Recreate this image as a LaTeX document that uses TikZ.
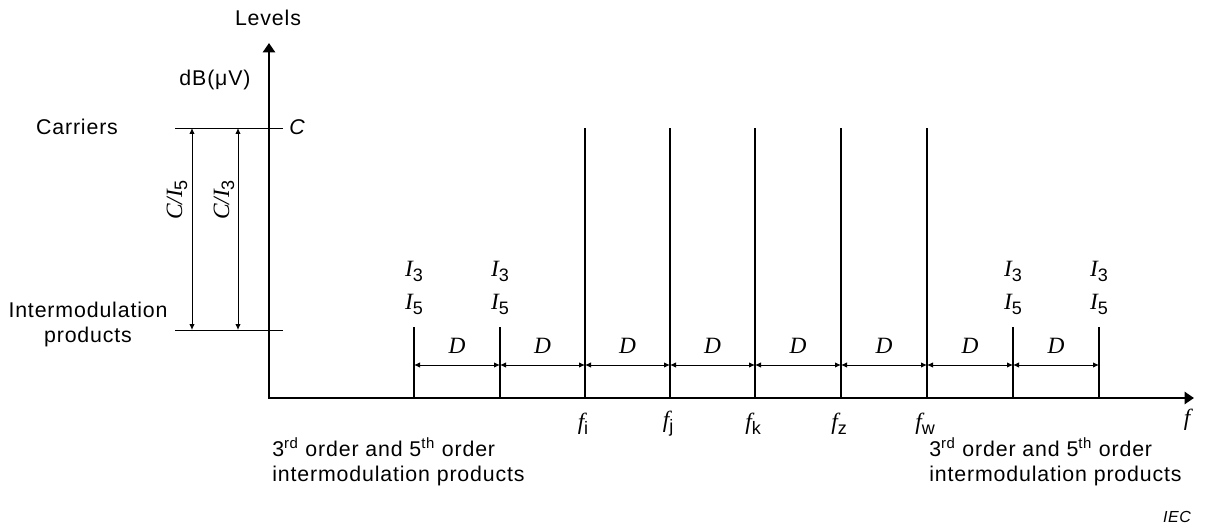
\documentclass[tikz,border=0pt]{standalone}
\usepackage{fontspec}
\setmainfont[LetterSpace=4]{Liberation Sans}
\newfontfamily\timesfont{Liberation Serif}
\usetikzlibrary{arrows.meta}
\usetikzlibrary{calc}
\usetikzlibrary{positioning}

% italic serif letter, sans subscript
\newcommand{\ivar}[1]{{\timesfont\itshape #1}}
\newcommand{\isub}[2]{\ivar{#1}\raisebox{-0.4ex}{\fontsize{13.5}{14}\selectfont #2}}

\begin{document}
\begin{tikzpicture}[x=0.75pt,y=-0.75pt,
	axis/.style={line width=2pt,line join=miter},
	specline/.style={line width=1.8pt},
	thinline/.style={line width=0.65pt},
	dimarrow/.style={line width=0.65pt,{Latex[length=4.5pt,width=4pt]}-{Latex[length=4.5pt,width=4pt]}},
	lbl/.style={font=\fontsize{16}{18.75}\selectfont,inner sep=0pt},
	vlbl/.style={font=\fontsize{17.5}{20}\selectfont,inner sep=0pt}]
	\useasboundingbox (0,0) rectangle (1210,527);

	% axes
	\coordinate (o) at (269,398);
	\coordinate (ytop) at (269,43);
	\coordinate (xend) at (1194,398);
	\draw[axis,{Triangle[length=7pt,width=9pt]}-{Triangle[length=7pt,width=9pt]}] (ytop) -- (o) -- (xend);
	\node[lbl] (levels) at (268,18) {Levels};
	\node[lbl] (unit) at (215,80) {dB(μV)};
	\node[vlbl] (faxis) at (1187,420) {\ivar{f}};

	% reference levels
	\coordinate (cl) at (175,128);
	\coordinate (cr) at (283,128);
	\coordinate (il) at (175,330);
	\coordinate (ir) at (283,330);
	\draw[thinline] (cl) -- (cr);
	\draw[thinline] (il) -- (ir);
	\node[lbl] (carriers) at (77,127) {Carriers};
	\node[lbl,align=center] (improd) at (88,324) {Intermodulation\\products};
	\node[lbl,font=\fontsize{16}{18}\selectfont\itshape] (clevel) at (297,127) {C};

	% C/I ratios
	\coordinate (c5t) at (192,128);
	\coordinate (c5b) at (192,330);
	\coordinate (c3t) at (238,128);
	\coordinate (c3b) at (238,330);
	\draw[dimarrow] (c5t) -- (c5b);
	\draw[dimarrow] (c3t) -- (c3b);
	\node[vlbl,rotate=90] (ci5) at (177,200) {\ivar{C/}\isub{I}{5}};
	\node[vlbl,rotate=90] (ci3) at (224,200) {\ivar{C/}\isub{I}{3}};

	% carriers
	\foreach \x/\n in {585/i,670/j,755/k,841/z,927/w}
	{
		\coordinate (f\n) at (\x,398);
		\draw[specline] (f\n) -- ++(0,-270);
		\node[vlbl] (lf\n) at (\x-2,424) {\isub{f}{\n}};
	}

	% intermodulation products
	\foreach \x/\n in {414/1,500/2,1013/3,1099/4}
	{
		\coordinate (p\n) at (\x,398);
		\draw[specline] (p\n) -- ++(0,-71) coordinate (pt\n);
		\node[vlbl] (ia\n) at (\x,271) {\isub{I}{3}};
		\node[vlbl] (ib\n) at (\x,304) {\isub{I}{5}};
	}

	% spacings
	\foreach \a/\b in {414/500,500/585,585/670,670/755,755/841,841/927,927/1013,1013/1099}
	{
		\coordinate (da) at (\a,365);
		\coordinate (db) at (\b,365);
		\draw[dimarrow] (da) -- (db);
		\node[vlbl] at ($(da)!0.5!(db)+(0,-19)$) {\ivar{D}};
	}

	% notes
	\node[lbl,align=left,anchor=north west] (noteleft) at (272,437) {3\textsuperscript{rd} order and 5\textsuperscript{th} order\\intermodulation products};
	\node[lbl,align=left,anchor=north west] (noteright) at (929,437) {3\textsuperscript{rd} order and 5\textsuperscript{th} order\\intermodulation products};
	\node[lbl,font=\fontsize{12}{14}\selectfont\itshape] (iec) at (1177,517) {IEC};
\end{tikzpicture}
\end{document}
